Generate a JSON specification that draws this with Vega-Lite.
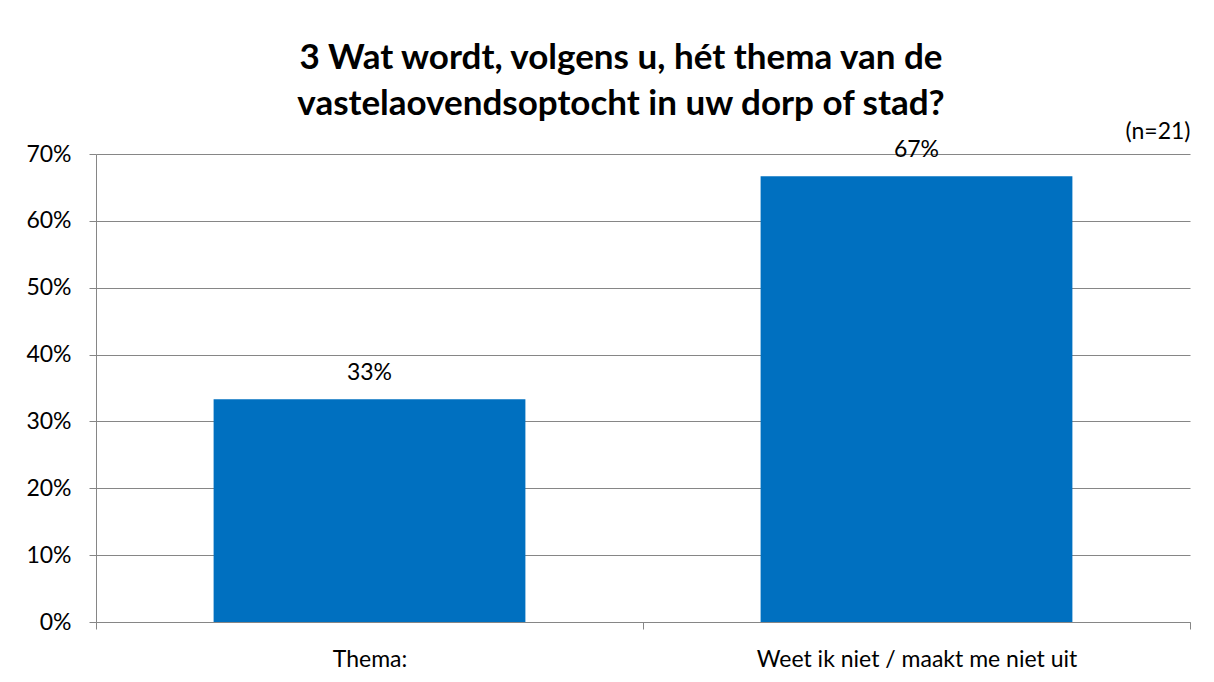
{
  "$schema": "https://vega.github.io/schema/vega-lite/v6.json",
  "width": 1094,
  "height": 468,
  "autosize": {"type": "none"},
  "padding": {"left": 96, "top": 154, "right": 24, "bottom": 60},
  "background": "white",
  "title": {
    "text": ["3 Wat wordt, volgens u, hét thema van de", "vastelaovendsoptocht in uw dorp of stad?"],
    "font": "Lato",
    "fontSize": 35,
    "fontWeight": "bold",
    "color": "#000000",
    "anchor": "middle",
    "frame": "group",
    "dx": -22,
    "lineHeight": 46,
    "offset": -2
  },
  "data": {
    "values": [
      {"antwoord": "Thema:", "aandeel": 0.3333},
      {"antwoord": "Weet ik niet / maakt me niet uit", "aandeel": 0.6667}
    ]
  },
  "config": {
    "view": {"stroke": null},
    "font": "Lato",
    "axis": {"labelFont": "Lato", "labelFontSize": 23, "labelColor": "#000000", "labelLimit": 0}
  },
  "layer": [
    {
      "mark": {"type": "bar", "color": "#0070C0", "width": {"band": 0.57}},
      "encoding": {
        "x": {
          "field": "antwoord",
          "type": "nominal",
          "sort": null,
          "scale": {"paddingInner": 0, "paddingOuter": 0},
          "axis": {
            "title": null,
            "labelAngle": 0,
            "labelPadding": 19,
            "domainColor": "#868686",
            "tickColor": "#868686",
            "tickBand": "extent",
            "tickSize": 7,
            "grid": false
          }
        },
        "y": {
          "field": "aandeel",
          "type": "quantitative",
          "scale": {"domain": [0, 0.7]},
          "axis": {
            "title": null,
            "format": ".0%",
            "values": [0, 0.1, 0.2, 0.3, 0.4, 0.5, 0.6, 0.7],
            "gridColor": "#868686",
            "domainColor": "#868686",
            "tickColor": "#868686",
            "tickSize": 7,
            "labelPadding": 18
          }
        }
      }
    },
    {
      "mark": {"type": "text", "fontSize": 23, "dy": -19, "baseline": "alphabetic", "color": "#000000"},
      "encoding": {
        "x": {
          "field": "antwoord",
          "type": "nominal",
          "sort": null,
          "axis": {
            "orient": "top",
            "title": "(n=21)",
            "titleFont": "Lato",
            "titleFontSize": 23,
            "titleFontWeight": "normal",
            "titleColor": "#000000",
            "titleAnchor": "end",
            "titleAlign": "right",
            "titleBaseline": "bottom",
            "titlePadding": 11,
            "labels": false,
            "ticks": false,
            "domain": false,
            "grid": false
          }
        },
        "y": {"field": "aandeel", "type": "quantitative"},
        "text": {"field": "aandeel", "type": "quantitative", "format": ".0%"}
      }
    }
  ],
  "resolve": {"axis": {"x": "independent"}}
}
